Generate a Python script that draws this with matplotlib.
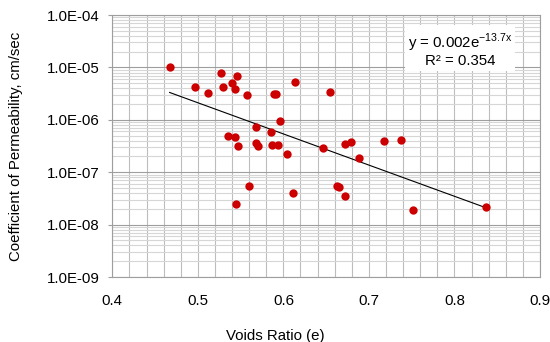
import numpy as np
import matplotlib.pyplot as plt
from matplotlib.ticker import FixedLocator, LogLocator, NullFormatter, FuncFormatter

plt.rcParams['font.family'] = ['Liberation Sans', 'DejaVu Sans']
plt.rcParams['mathtext.fontset'] = 'custom'
plt.rcParams['mathtext.rm'] = 'Liberation Sans'

# Voids ratio and permeability (cm/sec) for each sample
relacion_vacios = [0.467, 0.497, 0.512, 0.527, 0.529, 0.540, 0.546, 0.543, 0.557,
                   0.589, 0.591, 0.613, 0.596, 0.568, 0.585, 0.535, 0.544, 0.547,
                   0.568, 0.570, 0.587, 0.594, 0.604, 0.646, 0.655, 0.672, 0.679,
                   0.718, 0.738, 0.688, 0.560, 0.545, 0.611, 0.663, 0.665, 0.672,
                   0.751, 0.837]
permeabilidad = [1.02e-5, 4.3e-6, 3.3e-6, 7.8e-6, 4.3e-6, 5.1e-6, 6.8e-6, 3.8e-6, 3.0e-6,
                 3.05e-6, 3.05e-6, 5.3e-6, 9.6e-7, 7.4e-7, 5.8e-7, 5.0e-7, 4.8e-7, 3.2e-7,
                 3.66e-7, 3.16e-7, 3.35e-7, 3.35e-7, 2.25e-7, 2.86e-7, 3.4e-6, 3.5e-7, 3.77e-7,
                 3.9e-7, 4.06e-7, 1.87e-7, 5.46e-8, 2.5e-8, 3.95e-8, 5.4e-8, 5.3e-8, 3.47e-8,
                 1.9e-8, 2.14e-8]

# Exponential trendline y = a*e^(b*x)
coef_a = 0.002
coef_b = -13.7
r2 = 0.354

fig = plt.figure(figsize=(5.5, 3.42), dpi=100)
ax = fig.add_axes([0.2042, 0.19, 0.7776, 0.766])

ax.set_yscale('log')
ax.set_xlim(0.4, 0.9)
ax.set_ylim(1e-9, 1e-4)

# Grid: vertical every 0.02, horizontal at decades and 2..9
ax.xaxis.set_major_locator(FixedLocator(np.arange(0.4, 0.91, 0.1)))
ax.xaxis.set_minor_locator(FixedLocator(np.arange(0.4, 0.901, 0.02)))
ax.yaxis.set_major_locator(LogLocator(base=10, numticks=10))
ax.yaxis.set_minor_locator(LogLocator(base=10, subs=np.arange(2, 10), numticks=20))
ax.yaxis.set_minor_formatter(NullFormatter())
ax.yaxis.set_major_formatter(FuncFormatter(lambda v, p: '%.1E' % v))
ax.xaxis.set_major_formatter(FuncFormatter(lambda v, p: '%.1f' % v))

ax.grid(True, axis='x', which='both', color='#bdbdbd', linewidth=0.8)
ax.grid(True, axis='y', which='minor', color='#d6d6d6', linewidth=0.8)
ax.grid(True, axis='y', which='major', color='#9e9e9e', linewidth=0.8)
ax.set_axisbelow(True)

for s in ax.spines.values():
    s.set_color('#9e9e9e')
    s.set_linewidth(0.8)

ax.tick_params(axis='y', which='major', length=3, width=0.8, color='#9e9e9e', pad=6, labelsize=10.8)
ax.tick_params(axis='y', which='minor', length=0)
ax.tick_params(axis='x', which='both', length=0, pad=12, labelsize=10.8)

# Trendline between the smallest and largest voids ratio
x_tend = np.linspace(min(relacion_vacios), max(relacion_vacios), 100)
ax.plot(x_tend, coef_a * np.exp(coef_b * x_tend), color='black', linewidth=0.8, zorder=3)

ax.plot(relacion_vacios, permeabilidad, 'o', color='#cc0000', markersize=6,
        markeredgewidth=0, zorder=4)

ax.text(0.813, 0.868, 'y = 0.002e$^{\\mathregular{-13.7x}}$\nR² = %.3f' % r2,
        transform=ax.transAxes, ha='center', va='center', fontsize=10.8,
        linespacing=1.05, bbox=dict(facecolor='white', edgecolor='none', pad=2))

ax.set_xlabel('Voids Ratio (e)', fontsize=10.8)
ax.xaxis.set_label_coords(0.38, -0.2)
ax.set_ylabel('Coefficient of Permeability, cm/sec', fontsize=10.8)
ax.yaxis.set_label_coords(-0.209, 0.5)

fig.savefig('out.png', dpi=100)
